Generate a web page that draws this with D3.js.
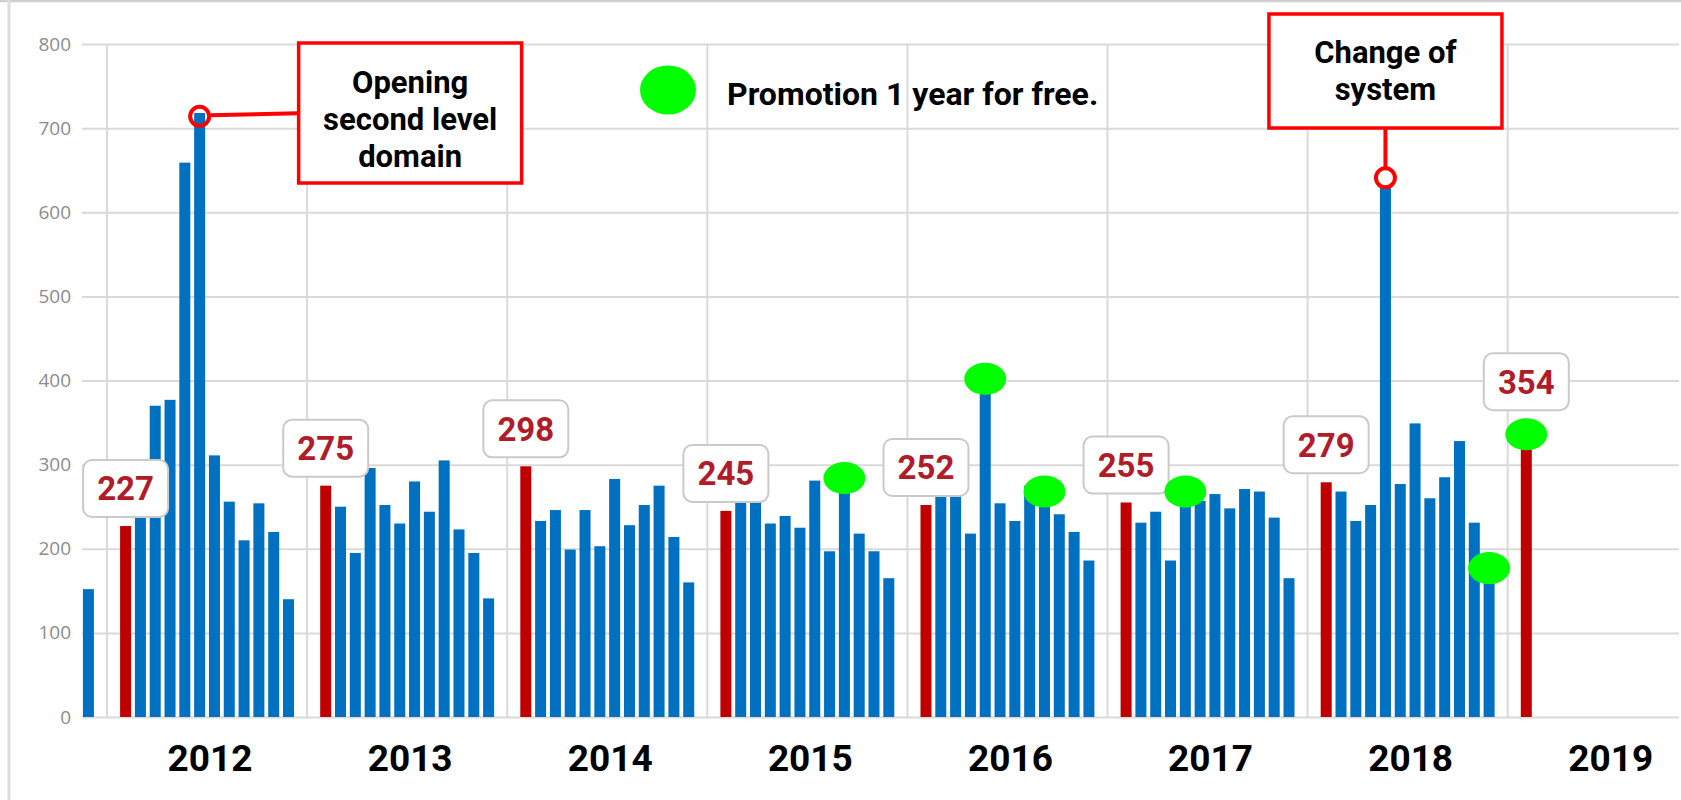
<!DOCTYPE html>
<html>
<head>
<meta charset="utf-8">
<script src="https://cdn.jsdelivr.net/npm/d3@7"></script>
<style>
  html, body { margin: 0; padding: 0; background: #ffffff; }
  svg { display: block; }
</style>
</head>
<body>
<svg id="chart" width="1681" height="800"></svg>
<script>
// ---------------- DATA ----------------
const years = ['2011', '2012', '2013', '2014', '2015', '2016', '2017', '2018', '2019'];
const yearLabels = ['2012', '2013', '2014', '2015', '2016', '2017', '2018', '2019'];
const months = ['Jan', 'Feb', 'Mar', 'Apr', 'May', 'Jun', 'Jul', 'Aug', 'Sep', 'Oct', 'Nov', 'Dec'];

// monthly values (null = not shown)
const values2011 = [null, null, null, null, null, null, null, null, null, null, null, 152];
const values2012 = [227, 240, 370, 377, 659, 718, 311, 256, 210, 254, 220, 140];
const values2013 = [275, 250, 195, 296, 252, 230, 280, 244, 305, 223, 195, 141];
const values2014 = [298, 233, 246, 199, 246, 203, 283, 228, 252, 275, 214, 160];
const values2015 = [245, 258, 258, 230, 239, 225, 281, 197, 282, 218, 197, 165];
const values2016 = [252, 266, 268, 218, 412, 254, 233, 275, 265, 241, 220, 186];
const values2017 = [255, 231, 244, 186, 258, 257, 265, 248, 271, 268, 237, 165];
const values2018 = [279, 268, 233, 252, 630, 277, 349, 260, 285, 328, 231, 170];
const values2019 = [354];

const yTicks = [0, 100, 200, 300, 400, 500, 600, 700, 800];

// "Promotion 1 year for free." markers: year, month index, value
const promoYears  = ['2015', '2016', '2016', '2017', '2018', '2019'];
const promoMonths = [8, 4, 8, 4, 11, 0];
const promoValues = [284, 402, 268, 268, 177, 336];

const legendText = 'Promotion 1 year for free.';
const note1Lines = ['Opening', 'second level', 'domain'];
const note2Lines = ['Change of', 'system'];
// annotation anchors: year, month, value
const note1Anchor = { year: '2012', month: 5, value: 714 };
const note2Anchor = { year: '2018', month: 4, value: 641 };

// ---------------- BUILD ----------------
const valuesByYear = [values2011, values2012, values2013, values2014, values2015,
                      values2016, values2017, values2018, values2019];
const bars = [];
valuesByYear.forEach((arr, yi) => {
  arr.forEach((v, m) => {
    if (v !== null && v !== undefined) bars.push({ year: years[yi], month: m, value: v });
  });
});

const svg = d3.select('#chart');
const W = 1681, H = 800;

const BLUE = '#0070c0', RED = '#c00000', GREEN = '#00ff00', ANN = '#ff0000';
const GRID = '#dadada';

const yearW = 200.1, x0 = 107;
const xYear = d3.scaleBand().domain(years).range([x0 - yearW, x0 + yearW * (years.length - 1)]);
const xMonth = d3.scaleBand().domain(d3.range(12)).range([0, xYear.bandwidth()])
  .paddingInner(0.257).paddingOuter(0.884);
const y = d3.scaleLinear().domain([0, 800]).range([717, 44]);

const plotLeft = 82, plotRight = 1679;
const barX = d => xYear(d.year) + xMonth(d.month);
const barCX = (yr, m) => xYear(yr) + xMonth(m) + xMonth.bandwidth() / 2;

// background + frame
svg.append('rect').attr('width', W).attr('height', H).attr('fill', '#fff');
svg.append('line').attr('x1', 0).attr('x2', W).attr('y1', 1).attr('y2', 1)
  .attr('stroke', '#cfcfcf').attr('stroke-width', 2.5);
svg.append('line').attr('x1', 9).attr('x2', 9).attr('y1', 0).attr('y2', H)
  .attr('stroke', '#dddddd').attr('stroke-width', 3);

// horizontal gridlines + y labels via axis
const yAxis = d3.axisLeft(y).tickValues(yTicks).tickSize(-(plotRight - plotLeft)).tickPadding(11);
const gy = svg.append('g').attr('transform', `translate(${plotLeft},0)`).call(yAxis);
gy.select('.domain').remove();
gy.selectAll('.tick line').attr('stroke', GRID).attr('stroke-width', 2);
gy.selectAll('.tick text').attr('fill', '#8c8c8c')
  .style('font-family', '"Open Sans", sans-serif').style('font-size', '19px');

// vertical gridlines at year boundaries
const gridYears = years.slice(1);
svg.append('g').selectAll('line').data(gridYears).join('line')
  .attr('x1', d => xYear(d)).attr('x2', d => xYear(d))
  .attr('y1', y(800)).attr('y2', y(0))
  .attr('stroke', GRID).attr('stroke-width', 2);

// bars
svg.append('g').selectAll('rect').data(bars).join('rect')
  .attr('x', barX)
  .attr('width', xMonth.bandwidth())
  .attr('y', d => y(d.value))
  .attr('height', d => y(0) - y(d.value))
  .attr('fill', d => d.month === 0 ? RED : BLUE);

// January value labels
const janBars = bars.filter(d => d.month === 0);
const lblW = 85, lblH = 57;
const lg = svg.append('g').selectAll('g').data(janBars).join('g')
  .attr('transform', d => `translate(${barCX(d.year, 0)},${y(d.value) - 9 - lblH / 2})`);
lg.append('rect')
  .attr('x', -lblW / 2).attr('y', -lblH / 2).attr('width', lblW).attr('height', lblH)
  .attr('rx', 9).attr('fill', '#fff').attr('stroke', '#cacaca').attr('stroke-width', 2);
lg.append('text').attr('text-anchor', 'middle').attr('dy', '0.36em')
  .attr('fill', '#b01c2a')
  .style('font-family', 'Roboto, sans-serif').style('font-size', '33px').style('font-weight', 700)
  .text(d => d.value);

// year labels
svg.append('g').selectAll('text').data(yearLabels).join('text')
  .attr('x', d => xYear(d) + xYear.bandwidth() / 2 + 3)
  .attr('y', 771)
  .attr('text-anchor', 'middle')
  .style('font-family', 'Roboto, sans-serif').style('font-size', '37px').style('font-weight', 700)
  .attr('fill', '#000')
  .text(d => d);

// promotion markers
const promos = promoYears.map((yr, i) => ({ year: yr, month: promoMonths[i], value: promoValues[i] }));
svg.append('g').selectAll('ellipse').data(promos).join('ellipse')
  .attr('cx', d => barCX(d.year, d.month))
  .attr('cy', d => y(d.value))
  .attr('rx', 21).attr('ry', 16)
  .attr('fill', GREEN);

// legend
svg.append('ellipse').attr('cx', 668).attr('cy', 90).attr('rx', 28).attr('ry', 24.5).attr('fill', GREEN);
svg.append('text').attr('x', 727).attr('y', 105)
  .style('font-family', 'Roboto, sans-serif').style('font-size', '32px').style('font-weight', 700)
  .attr('fill', '#000').text(legendText);

// annotation 1
{
  const cx = barCX(note1Anchor.year, note1Anchor.month), cy = y(note1Anchor.value);
  const bx = cx + 99, by = 43, bw = 223, bh = 140;
  svg.append('line').attr('x1', cx + 11).attr('y1', cy - 1).attr('x2', bx).attr('y2', cy - 3)
    .attr('stroke', ANN).attr('stroke-width', 4);
  svg.append('circle').attr('cx', cx).attr('cy', cy).attr('r', 9.5)
    .attr('fill', 'none').attr('stroke', ANN).attr('stroke-width', 4);
  svg.append('rect').attr('x', bx).attr('y', by).attr('width', bw).attr('height', bh)
    .attr('fill', '#fff').attr('stroke', ANN).attr('stroke-width', 3.5);
  svg.append('g').selectAll('text').data(note1Lines).join('text')
    .attr('x', bx + bw / 2).attr('y', (d, i) => 93 + i * 37)
    .attr('text-anchor', 'middle')
    .style('font-family', 'Roboto, sans-serif').style('font-size', '31px').style('font-weight', 700)
    .attr('fill', '#000').text(d => d);
}

// annotation 2
{
  const cx = barCX(note2Anchor.year, note2Anchor.month), cy = y(note2Anchor.value);
  const bw = 233, bh = 114, bx = cx - bw / 2, by = 14;
  svg.append('line').attr('x1', cx).attr('y1', by + bh).attr('x2', cx).attr('y2', cy - 10)
    .attr('stroke', ANN).attr('stroke-width', 4);
  svg.append('circle').attr('cx', cx).attr('cy', cy).attr('r', 9.5)
    .attr('fill', '#fff').attr('stroke', ANN).attr('stroke-width', 4);
  svg.append('rect').attr('x', bx).attr('y', by).attr('width', bw).attr('height', bh)
    .attr('fill', '#fff').attr('stroke', ANN).attr('stroke-width', 3.5);
  svg.append('g').selectAll('text').data(note2Lines).join('text')
    .attr('x', cx).attr('y', (d, i) => 63 + i * 37)
    .attr('text-anchor', 'middle')
    .style('font-family', 'Roboto, sans-serif').style('font-size', '31px').style('font-weight', 700)
    .attr('fill', '#000').text(d => d);
}
</script>
</body>
</html>
